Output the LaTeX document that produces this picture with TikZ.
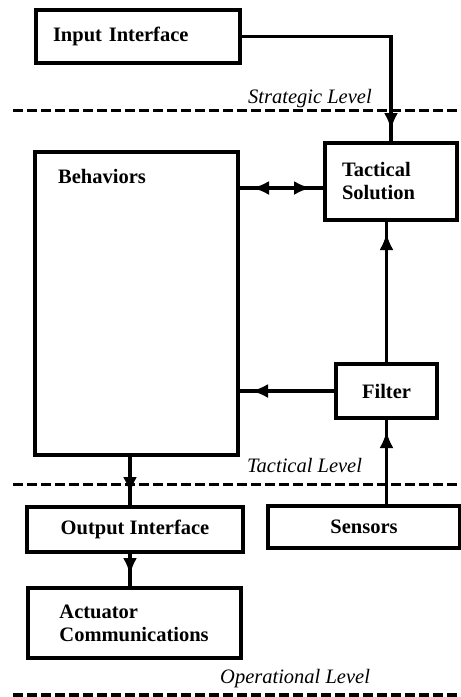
\documentclass[tikz,border=0pt]{standalone}
\usepackage{fontspec}
\setmainfont{Liberation Serif}
\usetikzlibrary{calc, positioning}
\usetikzlibrary{arrows.meta}
\usetikzlibrary{decorations.markings}

\tikzset{
  blk/.style={draw, line width=4pt, inner sep=0pt, font=\bfseries\fontsize{20.5}{23}\selectfont},
  txt/.style={inner sep=0pt, font=\bfseries\fontsize{20.5}{23}\selectfont},
  lvl/.style={anchor=base west, inner sep=0pt, font=\itshape\fontsize{20.5}{23}\selectfont},
  levelline/.style={line width=3pt, dash pattern=on 10pt off 4pt},
  conn/.style={line width=3.5pt},
  tipend/.style={postaction={decorate}, decoration={markings,
    mark=at position -11pt with {\arrow{Latex[length=17pt,width=14pt]}}}},
  tipboth/.style={postaction={decorate}, decoration={markings,
    mark=at position 12pt with {\arrowreversed{Latex[length=17pt,width=14pt]}},
    mark=at position -12pt with {\arrow{Latex[length=17pt,width=14pt]}}}},
}

\begin{document}
\begin{tikzpicture}[x=1pt, y=-1pt]
\useasboundingbox (0,0) rectangle (461,697);
% level separators
\draw[levelline] (13,110) -- (461,110);
\node[lvl] (strat) at (248,103) {Strategic Level};
\draw[levelline] (13,484) -- (461,484);
\node[lvl] (tactl) at (247,472) {Tactical Level};
\draw[levelline, line width=5pt] (13,695) -- (461,695);
\node[lvl] (oper) at (220,683) {Operational Level};
% blocks
\node[blk, minimum width=204pt, minimum height=53pt, text width=170pt, inner xsep=17pt, align=left] (input) at (138,36.5) {Input Interface};
\node[blk, minimum width=203pt, minimum height=303pt] (behav) at (136.5,303.5) {};
\node[txt, anchor=base west] (behavtxt) at (58,183) {Behaviors};
\node[blk, minimum width=132pt, minimum height=77pt, text width=98pt, inner xsep=17pt, align=left] (tac) at (391,181.5) {Tactical\\Solution\\[4pt]};
\node[blk, minimum width=101pt, minimum height=54pt] (filter) at (386.5,391) {Filter};
\node[blk, minimum width=192pt, minimum height=42pt] (sensors) at (364,527) {Sensors};
\node[blk, minimum width=216pt, minimum height=45pt] (output) at (135,529.5) {Output Interface};
\node[blk, minimum width=213pt, minimum height=70pt, text width=150pt, inner xsep=31.5pt, align=left] (act) at (134.5,623) {Actuator\\Communications};
% connectors
\coordinate (tacin) at ($(tac.west)+(0,6.5)$);
\coordinate (bdrop) at ($(behav.south)+(-6.5,0)$);
\draw[conn, tipend] (input.east) -| (tac.north);
\draw[conn, tipboth] (behav.east |- tacin) -- (tacin);
\draw[conn, tipend] (filter.north) -- (filter.north |- tac.south);
\draw[conn, tipend] (filter.west) -- (behav.east |- filter.west);
\draw[conn, tipend] (filter.south |- sensors.north) -- (filter.south);
\draw[conn, tipend] (bdrop) -- (bdrop |- output.north);
\draw[conn, tipend] (bdrop |- output.south) -- (bdrop |- act.north);
\end{tikzpicture}
\end{document}
